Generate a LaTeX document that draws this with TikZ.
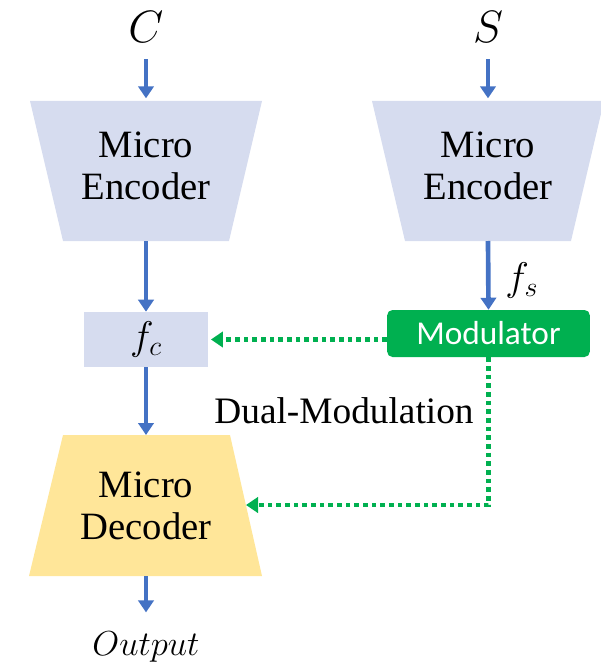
\RequirePackage{fix-cm}
\documentclass[tikz,border=0pt]{standalone}
\usepackage{fontspec}
\setmainfont{Liberation Serif}
\newfontfamily\modfont{Carlito}
\usetikzlibrary{arrows.meta}

\definecolor{encfill}{HTML}{D6DCEF}
\definecolor{decfill}{HTML}{FFE699}
\definecolor{flowblue}{HTML}{4472C4}
\definecolor{modgreen}{HTML}{00B050}

\begin{document}
\begin{tikzpicture}[x=0.75pt, y=-0.75pt,
  flow/.style={draw=flowblue, line width=3.5pt, -{Triangle[width=11.5pt,length=9pt]}},
  modflow/.style={draw=modgreen, line width=3.5pt, dash pattern=on 3.5pt off 3pt,
    -{Triangle[width=11.5pt,length=9pt]}},
  boxtext/.style={font=\fontsize{29}{32}\selectfont, align=center, inner sep=0pt},
  mathlbl/.style={font=\fontsize{34}{38}\selectfont, inner sep=0pt},
  featbox/.style={fill=encfill, minimum width=93pt, minimum height=41.25pt, inner sep=0pt,
    font=\fontsize{30}{34}\selectfont},
  modbox/.style={fill=modgreen, rounded corners=4pt, minimum width=152pt, minimum height=35.25pt,
    inner sep=0pt, text=white, font=\modfont\fontsize{25}{30}\selectfont}]
\useasboundingbox (0,0) rectangle (600,663);

% inputs
\node[mathlbl, anchor=base] (C) at (146,43) {$C$};
\node[mathlbl, anchor=base] (S) at (488,43) {$S$};

% content encoder
\fill[encfill] (30,101) -- (262,101) -- (229,241) -- (63,241) -- cycle;
\coordinate (encLtop) at (146,101);
\coordinate (encLbot) at (146,241);
\node[boxtext] (encL) at (146,166) {Micro\\Encoder};

% style encoder
\fill[encfill] (372,101) -- (604,101) -- (571,241) -- (405,241) -- cycle;
\coordinate (encRtop) at (488,101);
\coordinate (encRbot) at (488,241);
\node[boxtext] (encR) at (488,166) {Micro\\Encoder};

% content feature
\node[featbox] (fc) at (146,339.5) {$f_c$};

% modulator
\node[modbox] (mod) at (488.5,333.5) {Modulator};
\node[font=\fontsize{30}{34}\selectfont, inner sep=0pt, anchor=base west] (fs) at (505,290) {$f_s$};

% decoder
\fill[decfill] (63,435) -- (230,435) -- (262,576) -- (29,576) -- cycle;
\coordinate (decTop) at (146,435);
\coordinate (decBot) at (146,576);
\coordinate (decIn) at (246,505);
\node[boxtext] (dec) at (146,506) {Micro\\Decoder};

% output
\node[font=\fontsize{26}{30}\selectfont, inner sep=0pt, anchor=base] (out) at (146,655) {$Output$};

% main flow
\draw[flow, shorten <=12pt] (C.south) -- ([yshift=2pt]encLtop);
\draw[flow, shorten <=12pt] (S.south) -- ([yshift=2pt]encRtop);
\draw[flow] (encLbot) -- (fc.north);
\draw[flow] (encRbot) -- (mod.north);
\draw[flow] (fc.south) -- (decTop);
\draw[flow, shorten >=14pt] (decBot) -- (out.north);

% modulation paths
\draw[modflow] (mod.west |- fc.east) -- ([xshift=2pt]fc.east);
\draw[modflow] (mod.south) |- (decIn);
\node[font=\fontsize{28}{32}\selectfont, inner sep=0pt, anchor=base] (dual) at (344,423) {Dual-Modulation};
\end{tikzpicture}
\end{document}
